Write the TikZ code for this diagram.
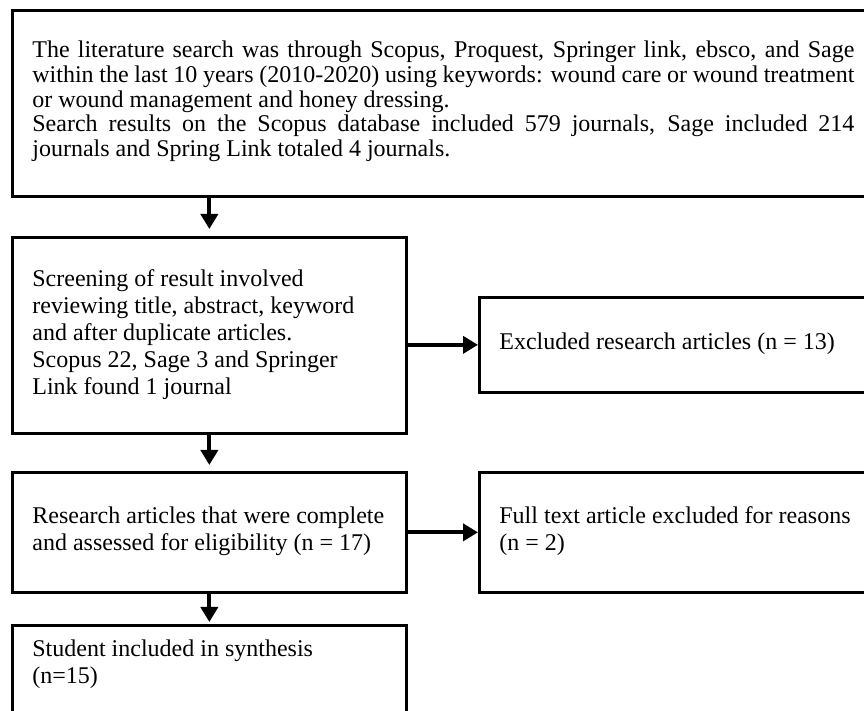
\documentclass[tikz,border=0pt]{standalone}
\usepackage{fontspec}
\setmainfont{Liberation Serif}
\usetikzlibrary{arrows.meta}
\newcommand{\boxtext}[1]{\parbox[t]{200pt}{\raggedright #1}}
\begin{document}
\begin{tikzpicture}[x=0.5pt,y=-0.5pt,
  box/.style={draw=black, line width=1.35pt, inner sep=0pt, anchor=north west},
  txt/.style={anchor=base west, inner sep=0pt,
    font=\fontsize{12pt}{13.4pt}\selectfont},
  arr/.style={line width=2pt, -{Triangle[length=7.5pt,width=8.5pt]}}]
\clip (0,0) rectangle (864,711);
% boxes
\node[box, minimum width=428.5pt, minimum height=93pt] (a) at (11,9) {};
\node[box, minimum width=197pt, minimum height=98pt] (b) at (11,236) {};
\node[box, minimum width=195pt, minimum height=47.5pt] (c) at (478,296) {};
\node[box, minimum width=197pt, minimum height=60pt] (d) at (11,471) {};
\node[box, minimum width=195pt, minimum height=60pt] (e) at (478,471) {};
\node[box, minimum width=197pt, minimum height=48pt] (f) at (11,624) {};
% texts
\node[txt] (ta) at (32,58) {\parbox[t]{411pt}{\fontsize{12pt}{12.3pt}\selectfont
The literature search was through Scopus, Proquest, Springer link, ebsco, and Sage\linebreak
within the last 10 years (2010-2020) using keywords: wound care or wound treatment\linebreak
or wound management and honey dressing.\\
Search results on the Scopus database included 579 journals, Sage included 214\linebreak
journals and Spring Link totaled 4 journals.}};
\node[txt] (tb) at (32,287) {\boxtext{Screening of result involved\\reviewing title, abstract, keyword\\and after duplicate articles.\\Scopus 22, Sage 3 and Springer\\Link found 1 journal}};
\node[txt] (tc) at (499,350) {Excluded research articles (n = 13)};
\node[txt] (td) at (32,524) {\boxtext{Research articles that were complete\\and assessed for eligibility (n = 17)}};
\node[txt] (te) at (499,524) {\boxtext{Full text article excluded for reasons\\(n = 2)}};
\node[txt] (tf) at (32,657) {\boxtext{Student included in synthesis\\(n=15)}};
% connectors
\draw[arr, shorten >=3.5pt] (b.north |- a.south) -- (b.north);
\draw[arr] (b.east |- c.west) -- (c.west);
\draw[arr, shorten >=3pt] (b.south) -- (d.north);
\draw[arr] (d.east) -- (e.west);
\draw[arr, shorten >=1pt] (d.south) -- (f.north);
\end{tikzpicture}
\end{document}
